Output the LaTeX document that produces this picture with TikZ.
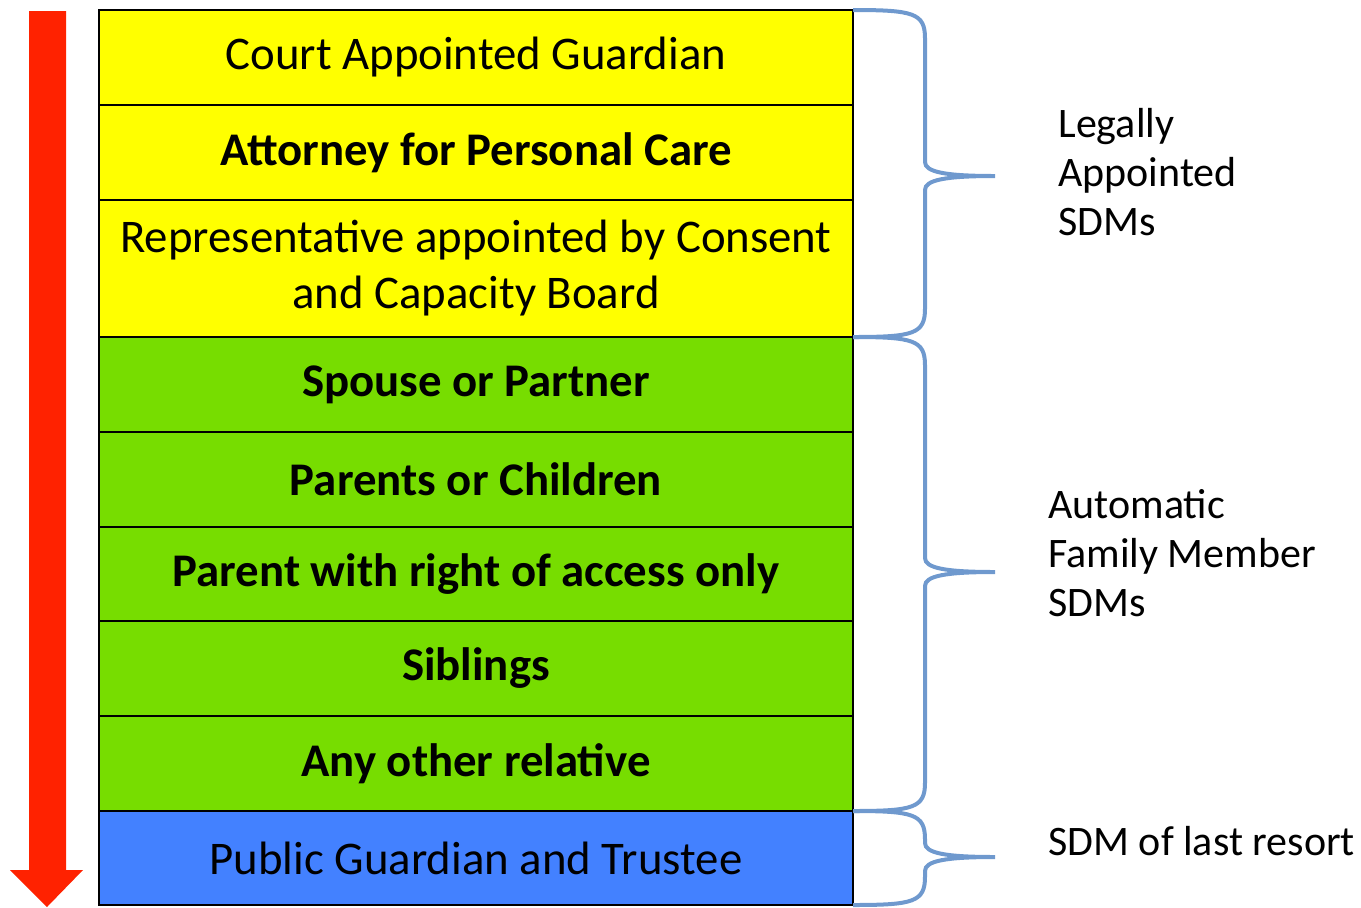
\documentclass[tikz,border=0pt]{standalone}
\usepackage{fontspec}
\setmainfont{Carlito}
\usetikzlibrary{positioning,calc}

\definecolor{sdmyellow}{HTML}{FFFF00}
\definecolor{sdmgreen}{HTML}{77DD00}
\definecolor{sdmblue}{HTML}{4381FF}
\definecolor{sdmred}{HTML}{FF2200}
\definecolor{sdmbrace}{HTML}{6F99CE}

% #1 top corner, #2 bottom corner, #3 tip
\newcommand\sdmbrace[3]{%
  \draw[bracket] (#1) .. controls +(60,0) and +(0,-25) .. ($(#3 |- #1)+(-70,28)$)
    -- ($(#3)+(-70,-14)$) .. controls +(0,10) and +(-50,0) .. (#3)
    .. controls +(-50,0) and +(0,-10) .. ($(#3)+(-70,14)$)
    -- ($(#3 |- #2)+(-70,-28)$) .. controls +(0,25) and +(60,0) .. (#2);}

\begin{document}
\begin{tikzpicture}[
    x=0.5pt,y=-0.5pt,
    font=\fontsize{23.4}{28}\selectfont,
    base/.style={rectangle,draw,line width=0.8pt,outer sep=0pt,inner sep=0pt,
      minimum width=377pt,minimum height=47.5pt,align=center},
    legal/.style={base,fill=sdmyellow},
    family/.style={base,fill=sdmgreen,font=\fontsize{23.4}{28}\selectfont\bfseries},
    trustee/.style={base,fill=sdmblue},
    sdmlabel/.style={anchor=west,align=left,inner sep=0pt,font=\fontsize{21}{24.5}\selectfont},
    bracket/.style={draw=sdmbrace,line width=2pt}
  ]
  \useasboundingbox (0,0) rectangle (1361,907);

  % priority arrow
  \fill[sdmred] (29,11) -- (66,11) -- (66,870) -- (83,870) -- (47,907)
    -- (10,870) -- (29,870) -- cycle;

  \node(b1) [legal] at (476,57.5) {Court Appointed Guardian};
  \node(b2) [legal,below=0pt of b1,font=\fontsize{23.4}{28}\selectfont\bfseries] {Attorney for Personal Care};
  \node(b3) [legal,below=0pt of b2,minimum height=68.5pt] {Representative appointed by Consent\\and Capacity Board};

  \node(b4) [family,below=0pt of b3] {Spouse or Partner};
  \node(b5) [family,below=0pt of b4] {Parents or Children};
  \node(b6) [family,below=0pt of b5,minimum height=47pt] {Parent with right of access only};
  \node(b7) [family,below=0pt of b6] {Siblings};
  \node(b8) [family,below=0pt of b7] {Any other relative};

  \node(b9) [trustee,below=0pt of b8,minimum height=47pt] {Public Guardian and Trustee};

  \coordinate (t1) at (995,176);
  \coordinate (t2) at (995,572);
  \coordinate (t3) at (995,857);

  \sdmbrace{b1.north east}{b3.south east}{t1}
  \sdmbrace{b4.north east}{b8.south east}{t2}
  \sdmbrace{b9.north east}{b9.south east}{t3}

  \node(l1) [sdmlabel,right=31.5pt of t1,yshift=2pt] {Legally\\Appointed\\SDMs};
  \node(l2) [sdmlabel,right=26.5pt of t2,yshift=9.5pt] {Automatic\\Family Member\\SDMs};
  \node(l3) [sdmlabel,right=26.5pt of t3,yshift=8pt] {SDM of last resort};

\end{tikzpicture}
\end{document}
